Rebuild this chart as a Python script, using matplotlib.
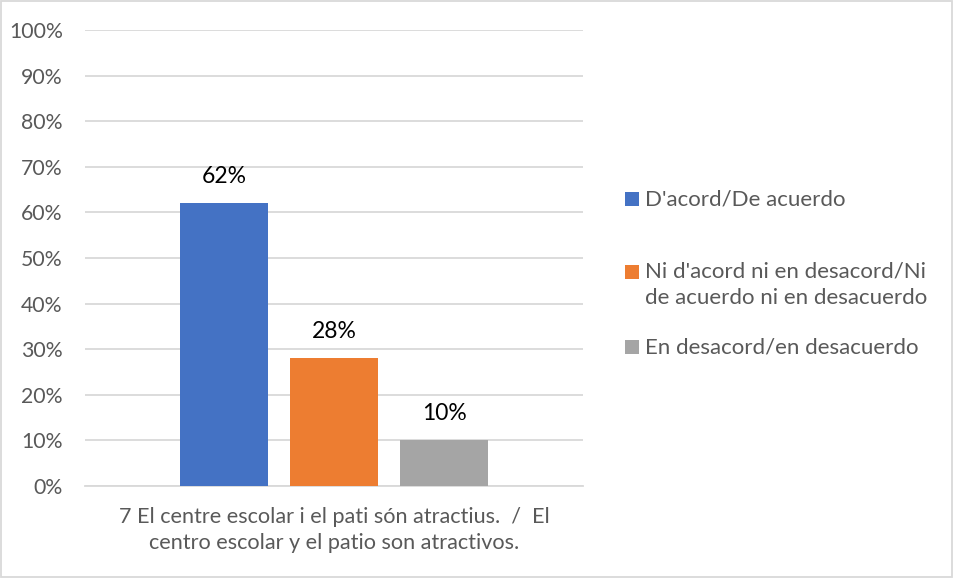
import matplotlib
matplotlib.use("Agg")
import matplotlib.pyplot as plt
import numpy as np

# Data
category = "7 El centre escolar i el pati són atractius.  /  El\ncentro escolar y el patio son atractivos."
series = ["D'acord/De acuerdo",
          "Ni d'acord ni en desacord/Ni\nde acuerdo ni en desacuerdo",
          "En desacord/en desacuerdo"]
values = [0.62, 0.28, 0.10]
value_labels = ["62%", "28%", "10%"]
colors = ["#4472C4", "#ED7D31", "#A5A5A5"]
yticks = np.arange(0, 1.01, 0.1)
ytick_labels = [f"{int(round(t * 100))}%" for t in yticks]

plt.rcParams['font.family'] = ['Lato', 'DejaVu Sans']

W, H = 954, 579
fig = plt.figure(figsize=(W / 100, H / 100), dpi=100)
ax = fig.add_axes([85 / W, 1 - 486 / H, (583 - 85) / W, (486 - 30) / H])

offset = 110 / 498
width = 88 / 498
for i, (v, lab, c) in enumerate(zip(values, value_labels, colors)):
    x = (i - 1) * offset
    ax.bar(x, v, width=width, color=c, zorder=3)
    ax.text(x, v + 0.035, lab, ha="center", va="bottom", fontsize=16.5, color="black")

ax.set_xlim(-0.5, 0.5)
ax.set_ylim(0, 1)
ax.set_yticks(yticks)
ax.set_yticklabels(ytick_labels, fontsize=15.3, color="#595959")
ax.set_xticks([0])
ax.set_xticklabels([category], fontsize=15.6, color="#595959", linespacing=1.38)
ax.tick_params(axis="both", length=0)
ax.tick_params(axis="y", pad=16)
ax.tick_params(axis="x", pad=15)
ax.grid(axis="y", color="#D9D9D9", linewidth=1.3, zorder=0)
for s in ["top", "right", "left"]:
    ax.spines[s].set_visible(False)
ax.spines["bottom"].set_color("#D9D9D9")
ax.spines["bottom"].set_linewidth(1.3)

# legend, laid out like the original (square next to the first line of each entry)
legend_rows = [(199, 199), (272, 284.5), (347, 347)]  # (square centre y, text centre y) in px
sq = 14
for name, c, (ysq, ytx) in zip(series, colors, legend_rows):
    fig.patches.append(plt.Rectangle((625 / W, 1 - (ysq + sq / 2) / H), sq / W, sq / H,
                                     transform=fig.transFigure, facecolor=c, edgecolor="none"))
    fig.text(645 / W, 1 - ytx / H, name, ha="left", va="center", fontsize=16,
             color="#595959", linespacing=1.38)

# figure border
fig.patches.append(plt.Rectangle((0.001, 0.004), 0.997, 0.994, transform=fig.transFigure,
                                 fill=False, edgecolor="#D9D9D9", linewidth=1.3))

fig.savefig("out.png", dpi=100)
